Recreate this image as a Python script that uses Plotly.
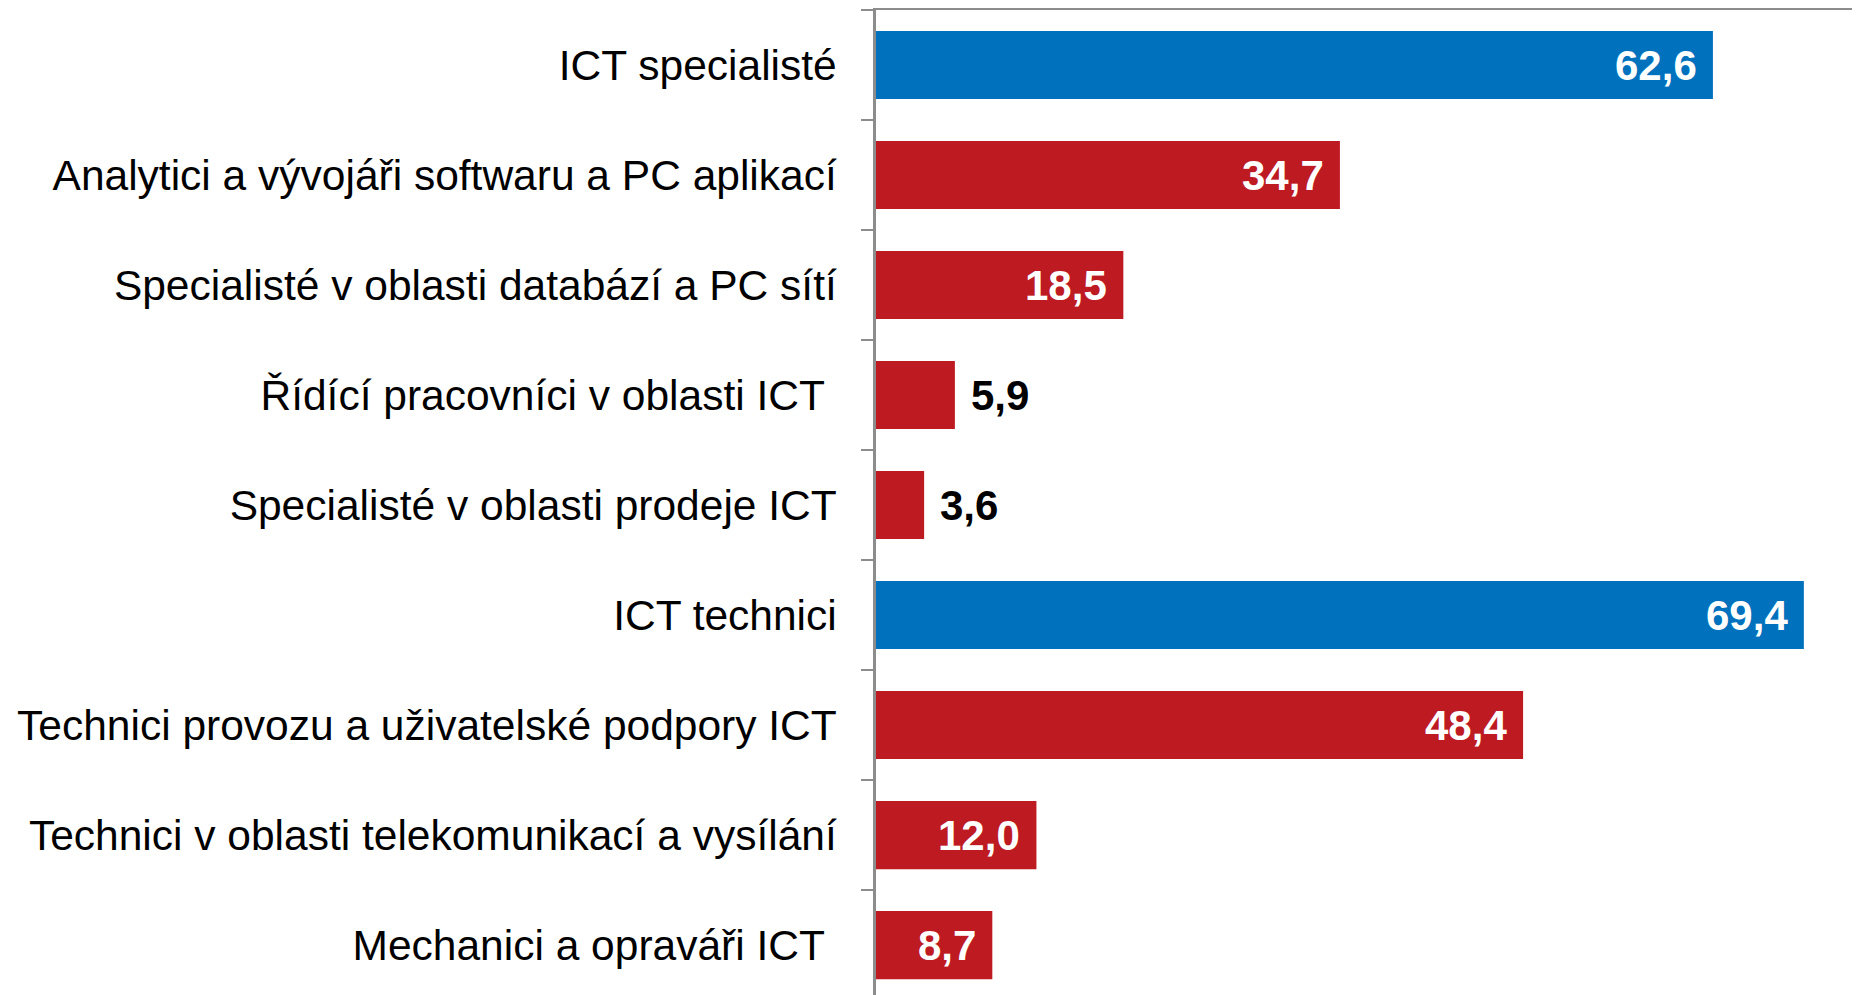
import plotly.graph_objects as go

categories = [
    "ICT specialisté",
    "Analytici a vývojáři softwaru a PC aplikací",
    "Specialisté v oblasti databází a PC sítí",
    "Řídící pracovníci v oblasti ICT\u00a0",
    "Specialisté v oblasti prodeje ICT",
    "ICT technici",
    "Technici provozu a uživatelské podpory ICT",
    "Technici v oblasti telekomunikací a vysílání",
    "Mechanici a opraváři ICT\u00a0",
]
values = [62.6, 34.7, 18.5, 5.9, 3.6, 69.4, 48.4, 12.0, 8.7]
labels = ["62,6", "34,7", "18,5", "5,9", "3,6", "69,4", "48,4", "12,0", "8,7"]
is_total = [True, False, False, False, False, True, False, False, False]
label_outside = [False, False, False, True, True, False, False, False, False]

BLUE = "#0071BD"
RED = "#BE1A22"
GRAY = "#8C8C8C"
FONT = "Liberation Sans, Arial, sans-serif"

colors = [BLUE if t else RED for t in is_total]

fig = go.Figure(go.Bar(
    x=values, y=categories, orientation="h",
    marker=dict(color=colors, line=dict(width=0)),
    hoverinfo="skip",
))

for c, v, lab, out in zip(categories, values, labels, label_outside):
    fig.add_annotation(
        x=v, y=c, text=f"<b>{lab}</b>", showarrow=False,
        xanchor="left" if out else "right",
        xshift=14 if out else -14,
        yanchor="middle",
        font=dict(family=FONT, size=42, color="black" if out else "white"),
    )

fig.update_layout(
    width=1852, height=995,
    margin=dict(l=868, r=0, t=2, b=0),
    paper_bgcolor="white", plot_bgcolor="white",
    bargap=0.38,
    showlegend=False,
    font=dict(family=FONT, size=42.5, color="black"),
)
fig.update_xaxes(
    range=[0, 73.6], side="top", showline=True, linecolor=GRAY, linewidth=2,
    showticklabels=False, showgrid=False, zeroline=False, ticks="",
)
fig.update_yaxes(
    categoryorder="array", categoryarray=categories,
    range=[8.527, -0.5],
    showline=True, linecolor=GRAY, linewidth=2.5,
    ticks="outside", ticklen=12, tickwidth=2, tickcolor=GRAY,
    tickson="boundaries", ticklabelstandoff=28,
    showgrid=False, zeroline=False,
    tickfont=dict(family=FONT, size=42.5, color="black"),
)

fig.write_html("out.html")
